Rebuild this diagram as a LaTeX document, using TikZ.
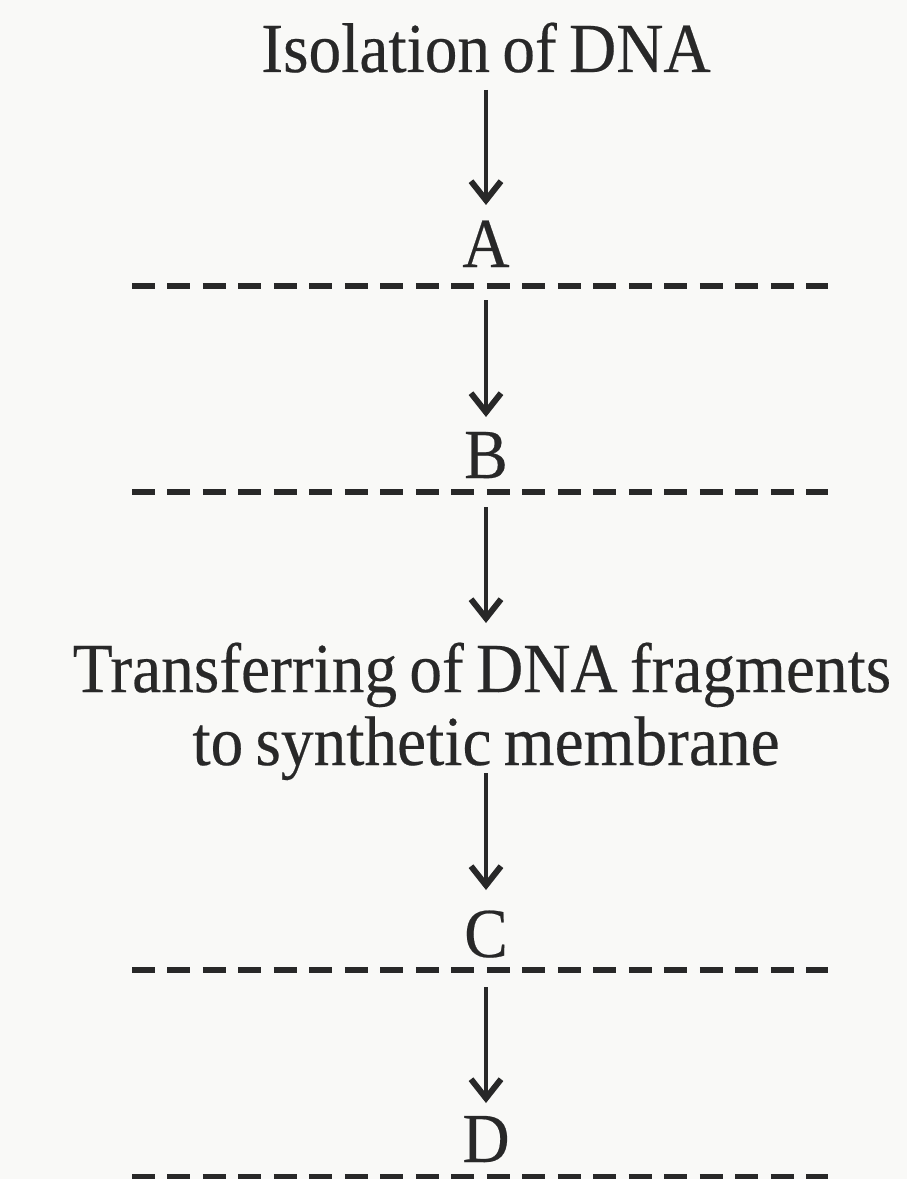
\documentclass[tikz,border=0pt]{standalone}
\usepackage{fontspec}
\setmainfont{Liberation Serif}[FakeStretch=0.93, FakeBold=0.3, WordSpace=0.75]
\usetikzlibrary{arrows.meta,calc}
\definecolor{ink}{RGB}{40,40,40}
\definecolor{paper}{RGB}{249,249,247}
\tikzset{
  txt/.style={inner sep=0pt, text=ink, font=\fontsize{40}{40}\selectfont, anchor=base},
  arr/.style={draw=ink, line width=2.5pt, -{Straight Barb[length=0.38cm, width=0.6cm, line width=3.4pt]}},
  dashline/.style={draw=ink, line width=3.3pt, dash pattern=on 0.46cm off 0.25cm}
}
\begin{document}
\begin{tikzpicture}[x=0.02cm, y=-0.02cm]
\fill[paper] (0,0) rectangle (907,1179);
\useasboundingbox (0,0) rectangle (907,1179);

\node[txt] (iso) at (486,72) {Isolation of DNA};
\node[txt] (A) at (486,267) {A};
\node[txt] (B) at (486,478) {B};
\node[txt] (tr1) at (482,692) {Transferring of DNA fragments};
\node[txt] (tr2) at (486,765) {to synthetic membrane};
\node[txt] (C) at (486,957) {C};
\node[txt] (D) at (486,1162) {D};

\draw[dashline] (132,286) -- (828,286);
\draw[dashline] (132,492) -- (828,492);
\draw[dashline] (132,970) -- (828,970);
\draw[dashline] (132,1177) -- (828,1177);

\draw[arr] ($(iso.base)+(0,18)$) -- ($(A.base)+(0,-62)$);
\draw[arr] ($(A.base)+(0,33)$) -- ($(B.base)+(0,-61)$);
\draw[arr] ($(B.base)+(0,29)$) -- ($(tr1.base)+(4,-69)$);
\draw[arr] ($(tr2.base)+(0,8)$) -- ($(C.base)+(0,-67)$);
\draw[arr] ($(C.base)+(0,30)$) -- ($(D.base)+(0,-59)$);
\end{tikzpicture}
\end{document}
